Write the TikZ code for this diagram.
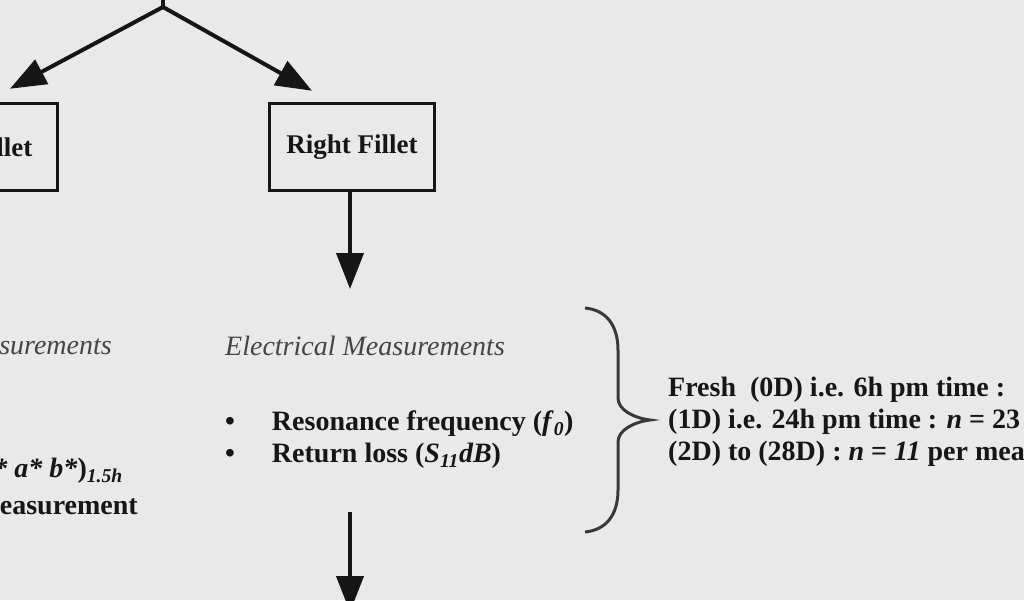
\documentclass[tikz,border=0pt]{standalone}
\usepackage{fontspec}
\setmainfont{Liberation Serif}
\usetikzlibrary{arrows.meta}
\definecolor{bg}{RGB}{233,233,233}
\definecolor{ink}{RGB}{22,22,22}
\tikzset{
  boxnode/.style={draw=ink, line width=3.5pt, minimum width=165pt, minimum height=87pt, font=\fontsize{27}{32}\selectfont\bfseries, text=ink, inner sep=0pt},
  arr/.style={draw=ink, line width=4pt, -{Triangle[width=27pt,length=36pt]}},
  plain/.style={draw=ink, line width=4pt},
  txt/.style={text=ink, inner sep=0pt, font=\fontsize{28}{32}\selectfont\bfseries},
  itxt/.style={text=ink!80!white, inner sep=0pt, font=\fontsize{28}{32}\selectfont\itshape},
  bracestyle/.style={draw=ink!85!white, line width=3pt}
}
\begin{document}
\begin{tikzpicture}[x=1pt,y=-1pt]
\useasboundingbox (0,0) rectangle (1024,600);
\clip (0,0) rectangle (1024,600);
\fill[bg] (0,0) rectangle (1024,600);
% top junction
\coordinate (above) at (163,-10);
\coordinate (top) at (163,7);
\draw[plain] (above) -- (top);
% boxes
\node[boxnode] (lf) at (-25,147) {Left Fillet};
\node[boxnode] (rf) at (352,147) {Right Fillet};
\draw[arr] (top) -- ([xshift=35pt,yshift=13pt]lf.north);
\draw[arr] (top) -- ([xshift=-40pt,yshift=11pt]rf.north);
\coordinate (t1) at (350,289);
\draw[arr] ([xshift=-2pt]rf.south) -- (t1);
% left column texts (cropped)
\node[itxt, anchor=east] (lm) at (112,345) {Measurements};
\node[txt, anchor=east] (lab) at (123,471) {(\textit{L* a* b*})\textsubscript{\textit{1.5h}}};
\node[txt, anchor=east] (lmm) at (138,505) {Measurement};
% electrical measurements
\node[itxt, anchor=west] (em) at (225,346) {Electrical Measurements};
\node[txt, anchor=west] (b1) at (225,424) {\textbullet\hspace{37pt}Resonance frequency (\textit{f}\textsubscript{\textit{0}})};
\node[txt, anchor=west] (b2) at (225,456) {\textbullet\hspace{37pt}Return loss (\textit{S}\textsubscript{\textit{11}}\textit{dB})};
% bottom arrow
\coordinate (b0) at (350,512);
\coordinate (bend) at (350,612);
\draw[arr] (b0) -- (bend);
% brace
\draw[bracestyle] (585,308) .. controls (606,310) and (618,325) .. (618,350)
  -- (618,398) .. controls (618,410) and (634,418) .. (650,420)
  .. controls (634,422) and (618,430) .. (618,442)
  -- (618,490) .. controls (618,515) and (606,530) .. (585,532);
\node[txt, anchor=west, align=left] (dates) at (668,422) {Fresh~~(0D) i.e. 6h pm time :\\(1D) i.e. 24h pm time : \textit{n} = 23\\(2D) to (28D) : \textit{n} = \textit{11} per measurement};
\end{tikzpicture}
\end{document}
